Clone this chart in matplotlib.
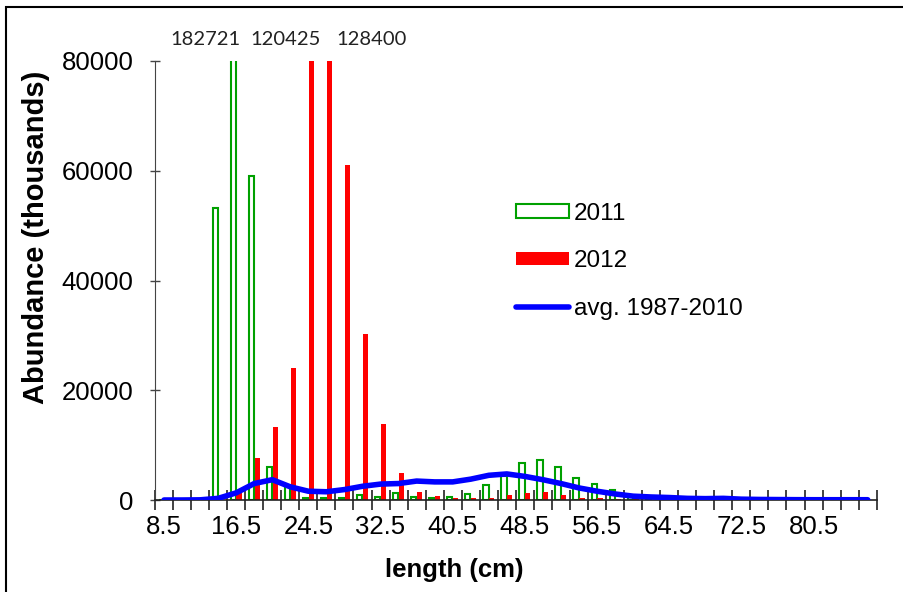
import matplotlib
matplotlib.use("Agg")
import matplotlib.pyplot as plt
from matplotlib.patches import Rectangle
import numpy as np

# length classes (cm), one bar pair per class
lengths = [8.5 + 2 * k for k in range(40)]

ab_2011 = [0, 0, 0, 53200, 182721, 59000, 6000, 2300, 400, 400,
           400, 900, 600, 1200, 500, 400, 550, 1100, 2650, 4300,
           6800, 7300, 5950, 4100, 2900, 1800, 600, 300, 300, 0,
           0, 0, 0, 0, 0, 0, 0, 0, 0, 0]
ab_2012 = [0, 0, 0, 0, 1900, 7700, 13300, 24100, 120425, 128400,
           61000, 30300, 13800, 4850, 1500, 700, 400, 400, 400, 900,
           1200, 1500, 900, 400, 400, 200, 100, 0, 0, 0,
           0, 0, 0, 0, 0, 0, 0, 0, 0, 0]
avg_8710 = [0, 0, 30, 300, 1300, 3000, 3700, 2400, 1600, 1500,
            1900, 2500, 2900, 3000, 3450, 3300, 3300, 3800, 4500, 4750,
            4300, 3700, 3000, 2200, 1600, 1100, 700, 550, 450, 300,
            250, 300, 150, 100, 80, 60, 50, 50, 50, 50]

# values above the axis limit, written at the top
off_scale = ["182721", "120425", "128400"]
off_x = [2.3, 6.75, 11.5]

plt.rcParams['font.family'] = ['Liberation Sans', 'DejaVu Sans']
fs = 18.5

fig = plt.figure(figsize=(9.04, 5.92), dpi=100)
ax = fig.add_axes([155 / 904, 92 / 592, 721.7 / 904, 439 / 592])

x = np.arange(len(lengths))
w = 0.29
b1 = ax.bar(x - 0.16, ab_2011, w, facecolor='white', edgecolor='#00A000',
            linewidth=1.5, label='2011', zorder=2)
b2 = ax.bar(x + 0.16, ab_2012, w, color='#FF0000', label='2012', zorder=2)
l1, = ax.plot(x, avg_8710, color='#0000FF', lw=4, solid_joinstyle='round',
              solid_capstyle='round', label='avg. 1987-2010', zorder=3)

ax.set_xlim(-0.5, 39.5)
ax.set_ylim(0, 80000)

# category axis: ticks between classes, labels every 4th class
ax.set_xticks(np.arange(-0.5, 40, 1))
ax.set_xticklabels([])
ax.set_xticks(x[::4], minor=True)
ax.set_xticklabels([f"{v:g}" for v in lengths[::4]], minor=True, fontsize=fs)
ax.tick_params(axis='x', which='major', direction='inout', length=14,
               width=1.2, color='#222222')
ax.tick_params(axis='x', which='minor', length=0, pad=11)

ax.set_yticks([0, 20000, 40000, 60000, 80000])
ax.tick_params(axis='y', direction='inout', length=7, width=1,
               color='#444444', labelsize=fs, pad=12)

for s in ['top', 'right']:
    ax.spines[s].set_visible(False)
ax.spines['left'].set_color('#444444')
ax.spines['bottom'].set_color('#222222')
ax.spines['bottom'].set_linewidth(1.2)

ax.set_xlabel('length (cm)', fontsize=fs, fontweight='bold')
ax.xaxis.set_label_coords(0.414, -0.132)
ax.set_ylabel('Abundance (thousands)', fontsize=21, fontweight='bold')
ax.yaxis.set_label_coords(-0.1455, 0.599)

for txt, xp in zip(off_scale, off_x):
    ax.text(xp, 84000, txt, ha='center', va='center', fontsize=14.5,
            family=['Lato', 'DejaVu Sans'], color='#222222', clip_on=False)

ax.legend([b1, b2, l1], ['2011', '2012', 'avg. 1987-2010'],
          loc='center left', bbox_to_anchor=(0.5, 0.544), frameon=False,
          fontsize=17.5, borderpad=0, borderaxespad=0, handlelength=2.2,
          handletextpad=0.2, labelspacing=1.05, handleheight=0.5)

# border around the chart area
fig.patches.append(Rectangle((6 / 904, -0.05), 1.2, 1 - 6.5 / 592 + 0.05,
                             transform=fig.transFigure, fill=False,
                             edgecolor='black', linewidth=1.5))

plt.savefig('out.png', dpi=100, facecolor='white')
